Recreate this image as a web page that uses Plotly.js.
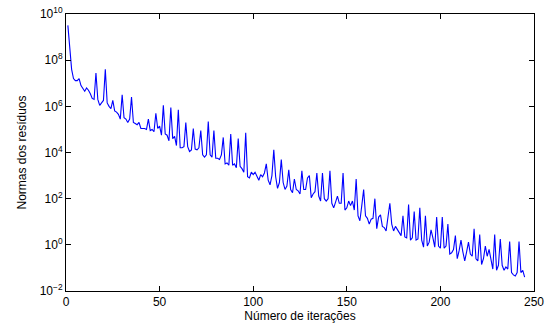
<!DOCTYPE html>
<html>
<head>
<meta charset="utf-8">
<script src="https://cdn.plot.ly/plotly-3.0.1.min.js"></script>
<style>html,body{margin:0;padding:0;background:#fff;}#chart{width:552px;height:325px;}</style>
</head>
<body>
<div id="chart"></div>
<script>
// Residual norms per iteration (iteration 1 .. 245)
const firstIteration = 1;
const residualNorms = [
  3.2e9, 2.5e8, 4e7, 1.6e7, 1.3e7, 1.3e7, 1.6e7, 7.9e6, 6.3e6, 4.5e6,
  6.3e6, 5e6, 3.5e6, 2.2e6, 2e6, 2.8e7, 2e6, 1.1e6, 1.4e6, 1.8e6,
  4e7, 1.4e6, 1e6, 7.9e5, 1.8e6, 6.3e5, 5.6e5, 4.5e5, 2.8e5, 3.2e6,
  3.2e5, 2.8e5, 2e5, 2.8e5, 2.5e6, 2e5, 1.8e5, 1.6e5, 2e5, 1.1e5,
  1.1e5, 1.1e5, 1e5, 2.8e5, 8.9e4, 1e5, 7.9e4, 5e5, 1.1e5, 1.4e5,
  5.6e4, 1.1e6, 6.3e4, 5.6e4, 3.2e4, 8.9e5, 4e4, 5e4, 2e4, 7.1e5,
  1.6e4, 1.6e4, 1.8e4, 2e5, 1.8e4, 1.1e4, 1.3e4, 1.1e5, 1.4e4, 1.3e4,
  1.6e4, 8.9e4, 7.9e3, 6.3e3, 7.9e3, 2.2e5, 7.9e3, 6.3e3, 8.9e4, 5.6e3,
  5.6e3, 5e3, 7.9e3, 4.5e4, 3.2e3, 3.5e3, 2.8e3, 6.3e4, 2.8e3, 3.2e3,
  2.2e3, 4e4, 2.5e3, 2e3, 1.4e3, 7.1e4, 8.9e2, 7.9e2, 1.4e3, 1.1e3,
  1.4e3, 1e3, 6.3e2, 1.1e3, 8.9e2, 1.3e3, 3.2e3, 6.3e2, 4e2, 1e3,
  1.3e4, 8.9e2, 2.8e2, 5e2, 5e3, 5e2, 2.5e2, 3.5e2, 1.8e3, 2.5e2,
  1.8e2, 7.1e2, 2.5e2, 2.2e2, 1.6e2, 1.6e3, 2.5e2, 2.5e2, 7.9e2, 1e3,
  1.1e2, 1.6e2, 2e2, 1.3e3, 1.3e2, 79, 1.3e3, 1e2, 79, 1e2,
  1.6e3, 63, 40, 71, 1.3e2, 63, 63, 1.3e3, 32, 40,
  79, 50, 79, 32, 7.1e2, 18, 11, 50, 2.5e2, 18,
  14, 7.9, 13, 14, 1e2, 5, 16, 20, 6.3, 5.6,
  4, 16, 63, 7.9, 4, 6.3, 4.5, 3.5, 2.5, 18,
  2.2, 2, 56, 1.6, 2, 28, 1.6, 1.8, 40, 1.6,
  0.79, 18, 0.89, 1.3, 4.5, 2, 0.79, 16, 0.89, 0.71,
  16, 0.71, 0.89, 7.9, 0.4, 0.45, 0.63, 2.5, 0.25, 0.56,
  1.6, 0.5, 0.2, 0.5, 1.3, 0.4, 0.32, 5, 0.25, 0.2,
  2.8, 0.14, 0.25, 0.89, 0.32, 0.63, 0.2, 0.089, 2.8, 0.079,
  0.13, 1.8, 0.13, 0.079, 0.11, 0.089, 1.4, 0.063, 0.05, 0.045,
  0.063, 1.4, 0.063, 0.079, 0.04
];
const xTickValues = [0, 50, 100, 150, 200, 250];
const xTickLabels = ["0", "50", "100", "150", "200", "250"];
const yTickValues = [1e-2, 1e0, 1e2, 1e4, 1e6, 1e8, 1e10];
const yTickLabels = ["10<sup>\u22122</sup>", "10<sup>0</sup>", "10<sup>2</sup>", "10<sup>4</sup>", "10<sup>6</sup>", "10<sup>8</sup>", "10<sup>10</sup>"];
const yTitle = "Normas dos resíduos";
const xTitle = "Número de iterações";

const trace = {
  type: "scatter",
  mode: "lines",
  x0: firstIteration,
  dx: 1,
  y: residualNorms,
  line: {color: "#0000ff", width: 1.1},
  hoverinfo: "skip"
};

const axisCommon = {
  showgrid: false,
  zeroline: false,
  showline: true,
  linecolor: "#000",
  linewidth: 1,
  mirror: "ticks",
  ticks: "inside",
  ticklen: 5,
  tickcolor: "#000",
  tickfont: {family: "Liberation Sans, Arial, sans-serif", size: 12, color: "#000"}
};

const layout = {
  width: 552,
  height: 325,
  margin: {l: 66, r: 18, t: 14, b: 34},
  paper_bgcolor: "#fff",
  plot_bgcolor: "#fff",
  showlegend: false,
  xaxis: Object.assign({}, axisCommon, {
    range: [0, 250],
    tickvals: xTickValues,
    ticktext: xTickLabels,
    title: {text: xTitle, standoff: 2, font: {family: "Liberation Sans, Arial, sans-serif", size: 12, color: "#000"}}
  }),
  yaxis: Object.assign({}, axisCommon, {
    type: "log",
    range: [-2, 10],
    tickvals: yTickValues,
    ticktext: yTickLabels,
    title: {text: yTitle, standoff: 10, font: {family: "Liberation Sans Narrow, Liberation Sans, Arial, sans-serif", size: 12, color: "#000"}}
  })
};

Plotly.newPlot("chart", [trace], layout, {staticPlot: true, displayModeBar: false});
</script>
</body>
</html>
